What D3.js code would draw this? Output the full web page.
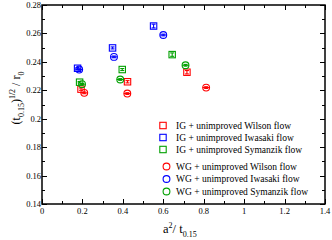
<!DOCTYPE html>
<html>
<head>
<meta charset="utf-8">
<script src="https://cdn.jsdelivr.net/npm/d3@7"></script>
<style>
  body { margin: 0; background: #fff; }
  svg text { font-family: "Liberation Serif", "DejaVu Serif", serif; }
</style>
</head>
<body>
<div id="wrapper"></div>
<script>
// data
const igWilsonX = [0.193, 0.423, 0.717];
const igWilsonY = [0.2208, 0.2260, 0.2327];
const igWilsonErr = [0.0008, 0.0008, 0.0012];

const igIwasakiX = [0.176, 0.349, 0.552];
const igIwasakiY = [0.2355, 0.2498, 0.2652];
const igIwasakiErr = [0.0005, 0.0007, 0.0013];

const igSymanzikX = [0.186, 0.397, 0.644];
const igSymanzikY = [0.2257, 0.2346, 0.2451];
const igSymanzikErr = [0.0005, 0.0007, 0.0012];

const wgWilsonX = [0.209, 0.422, 0.812];
const wgWilsonY = [0.2182, 0.2177, 0.2219];
const wgWilsonErr = [0.0006, 0.0006, 0.0006];

const wgIwasakiX = [0.184, 0.356, 0.600];
const wgIwasakiY = [0.2346, 0.2435, 0.2589];
const wgIwasakiErr = [0.0005, 0.0006, 0.0006];

const wgSymanzikX = [0.198, 0.387, 0.710];
const wgSymanzikY = [0.2243, 0.2276, 0.2376];
const wgSymanzikErr = [0.0005, 0.0006, 0.0006];

const xTicks = [0, 0.2, 0.4, 0.6, 0.8, 1, 1.2, 1.4];
const yTicks = [0.14, 0.16, 0.18, 0.2, 0.22, 0.24, 0.26, 0.28];

const red = "#ff0000", blue = "#0000ff", green = "#00a000";

const series = [
  { label: "IG + unimproved Wilson flow", shape: "square", color: red, x: igWilsonX, y: igWilsonY, err: igWilsonErr },
  { label: "IG + unimproved Iwasaki flow", shape: "square", color: blue, x: igIwasakiX, y: igIwasakiY, err: igIwasakiErr },
  { label: "IG + unimproved Symanzik flow", shape: "square", color: green, x: igSymanzikX, y: igSymanzikY, err: igSymanzikErr },
  { label: "WG + unimproved Wilson flow", shape: "circle", color: red, x: wgWilsonX, y: wgWilsonY, err: wgWilsonErr },
  { label: "WG + unimproved Iwasaki flow", shape: "circle", color: blue, x: wgIwasakiX, y: wgIwasakiY, err: wgIwasakiErr },
  { label: "WG + unimproved Symanzik flow", shape: "circle", color: green, x: wgSymanzikX, y: wgSymanzikY, err: wgSymanzikErr },
];

// dimensions
const width = 332, height = 240;
const margin = { top: 5, right: 7, bottom: 36, left: 42 };

const svg = d3.select("#wrapper").append("svg")
  .attr("width", width)
  .attr("height", height);

const xScale = d3.scaleLinear().domain([0, 1.4]).range([margin.left, width - margin.right]);
const yScale = d3.scaleLinear().domain([0.14, 0.28]).range([height - margin.bottom, margin.top]);

const x0 = xScale.range()[0], x1 = xScale.range()[1];
const y0 = yScale.range()[0], y1 = yScale.range()[1];

// ticks, all pointing inward on every side
const ticks = svg.append("g").attr("stroke", "#000").attr("stroke-width", 1);
const xMinor = d3.range(0, 1.41, 0.1);
const yMinor = d3.range(0.14, 0.2801, 0.01);
xMinor.forEach((v, i) => {
  const len = i % 2 === 0 ? 5 : 3;
  const px = Math.round(xScale(v)) + 0.5;
  ticks.append("line").attr("x1", px).attr("x2", px).attr("y1", y0).attr("y2", y0 - len);
  ticks.append("line").attr("x1", px).attr("x2", px).attr("y1", y1).attr("y2", y1 + len);
});
yMinor.forEach((v, i) => {
  const len = i % 2 === 0 ? 5 : 3;
  const py = Math.round(yScale(v)) + 0.5;
  ticks.append("line").attr("y1", py).attr("y2", py).attr("x1", x0).attr("x2", x0 + len);
  ticks.append("line").attr("y1", py).attr("y2", py).attr("x1", x1).attr("x2", x1 - len);
});

svg.append("rect")
  .attr("x", x0).attr("y", y1)
  .attr("width", x1 - x0).attr("height", y0 - y1)
  .attr("fill", "none").attr("stroke", "#000").attr("stroke-width", 1.5);

// tick labels
svg.append("g").selectAll("text").data(xTicks).join("text")
  .attr("x", d => xScale(d))
  .attr("y", y0 + 10)
  .attr("text-anchor", "middle")
  .attr("font-size", 8.5)
  .text(d => d3.format("")(d));

svg.append("g").selectAll("text").data(yTicks).join("text")
  .attr("x", x0 - 1)
  .attr("y", d => yScale(d) + 3)
  .attr("text-anchor", "end")
  .attr("font-size", 8.5)
  .text(d => d3.format("")(d));

// axis titles
const xt = svg.append("text")
  .attr("x", 163).attr("y", 233)
  .attr("font-size", 12.5);
xt.append("tspan").text("a");
xt.append("tspan").attr("font-size", 8).attr("dy", -5.5).text("2");
xt.append("tspan").attr("dy", 5.5).text("/ t");
xt.append("tspan").attr("font-size", 8).attr("dy", 3.5).text("0.15");

const yt = svg.append("text")
  .attr("transform", `translate(20, 98) rotate(-90)`)
  .attr("text-anchor", "middle")
  .attr("font-size", 12);
yt.append("tspan").text("(t");
yt.append("tspan").attr("font-size", 8).attr("dy", 3.5).text("0.15");
yt.append("tspan").attr("dy", -3.5).text(")");
yt.append("tspan").attr("font-size", 8).attr("dy", -5.5).text("1/2");
yt.append("tspan").attr("dy", 5.5).text(" / r");
yt.append("tspan").attr("font-size", 8).attr("dy", 3.5).text("0");

// markers
const marks = svg.append("g").attr("fill", "none").attr("stroke-width", 1.1);
const half = 3.2, rad = 3.4;

function drawMarker(g, shape, color, cx, cy) {
  if (shape === "square") {
    g.append("rect")
      .attr("x", cx - half).attr("y", cy - half)
      .attr("width", half * 2).attr("height", half * 2)
      .attr("stroke", color);
  } else {
    g.append("circle").attr("cx", cx).attr("cy", cy).attr("r", rad).attr("stroke", color);
  }
}

series.forEach(s => {
  s.x.forEach((xv, i) => {
    const cx = xScale(xv), cy = yScale(s.y[i]);
    const top = yScale(s.y[i] + s.err[i]), bot = yScale(s.y[i] - s.err[i]);
    drawMarker(marks, s.shape, s.color, cx, cy);
    // error bar with caps
    marks.append("line").attr("x1", cx).attr("x2", cx).attr("y1", top).attr("y2", bot).attr("stroke", s.color);
    marks.append("line").attr("x1", cx - 2).attr("x2", cx + 2).attr("y1", top).attr("y2", top).attr("stroke", s.color);
    marks.append("line").attr("x1", cx - 2).attr("x2", cx + 2).attr("y1", bot).attr("y2", bot).attr("stroke", s.color);
    if (s.shape === "circle") {
      marks.append("line").attr("x1", cx - rad).attr("x2", cx + rad).attr("y1", cy).attr("y2", cy).attr("stroke", s.color);
    }
  });
});

// legend
const legendRows = [125.5, 137.5, 149.5, 166.5, 179, 191.5];
const legend = svg.append("g");
series.forEach((s, i) => {
  const ly = legendRows[i];
  const mx = s.shape === "square" ? 163 : 166.5;
  drawMarker(legend.append("g").attr("fill", "none").attr("stroke-width", 1.1), s.shape, s.color, mx, ly);
  legend.append("text")
    .attr("x", 176).attr("y", ly + 3.2)
    .attr("font-size", 9.5)
    .text(s.label);
});
</script>
</body>
</html>
